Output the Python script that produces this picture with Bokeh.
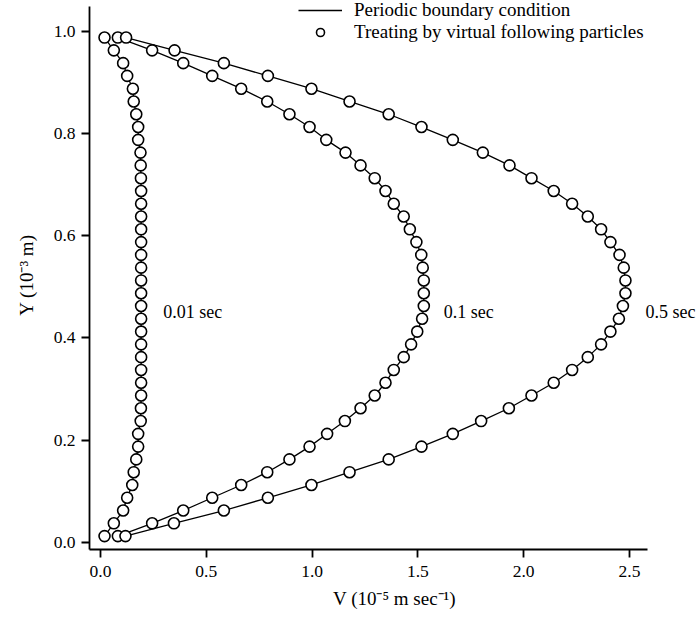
from bokeh.plotting import figure
from bokeh.models import Range1d, FixedTicker, Legend, LegendItem, Label, NumeralTickFormatter
from bokeh.embed import file_html
from bokeh.resources import INLINE

# Y position (10^-3 m) of each sampled particle layer
Y = [0.0125, 0.0375, 0.0625, 0.0875, 0.1125, 0.1375, 0.1625, 0.1875, 0.2125, 0.2375,
     0.2625, 0.2875, 0.3125, 0.3375, 0.3625, 0.3875, 0.4125, 0.4375, 0.4625, 0.4875,
     0.5125, 0.5375, 0.5625, 0.5875, 0.6125, 0.6375, 0.6625, 0.6875, 0.7125, 0.7375,
     0.7625, 0.7875, 0.8125, 0.8375, 0.8625, 0.8875, 0.9125, 0.9375, 0.9625, 0.9875]

# Velocity V (10^-5 m/s) at t = 0.01 s
V_001 = [0.019, 0.063, 0.107, 0.126, 0.150, 0.157, 0.169, 0.178, 0.178, 0.190,
         0.191, 0.192, 0.192, 0.192, 0.192, 0.192, 0.192, 0.192, 0.192, 0.192,
         0.192, 0.192, 0.192, 0.192, 0.192, 0.192, 0.192, 0.192, 0.191, 0.190,
         0.189, 0.178, 0.178, 0.169, 0.157, 0.153, 0.126, 0.107, 0.063, 0.019]

# t = 0.1 s
V_01 = [0.082, 0.244, 0.391, 0.528, 0.665, 0.788, 0.893, 0.988, 1.071, 1.155,
        1.229, 1.296, 1.347, 1.386, 1.433, 1.468, 1.497, 1.520, 1.528, 1.528,
        1.528, 1.523, 1.516, 1.493, 1.462, 1.433, 1.386, 1.347, 1.296, 1.229,
        1.158, 1.067, 0.988, 0.893, 0.788, 0.665, 0.528, 0.391, 0.244, 0.082]

# t = 0.5 s
V_05 = [0.118, 0.347, 0.583, 0.791, 0.997, 1.177, 1.362, 1.517, 1.665, 1.799,
        1.930, 2.037, 2.142, 2.229, 2.303, 2.366, 2.410, 2.450, 2.469, 2.481,
        2.481, 2.473, 2.453, 2.410, 2.366, 2.303, 2.229, 2.142, 2.037, 1.933,
        1.807, 1.665, 1.517, 1.362, 1.177, 0.997, 0.791, 0.583, 0.350, 0.121]

series = [V_001, V_01, V_05]
curve_labels = ["0.01 sec", "0.1 sec", "0.5 sec"]
label_x = [0.296, 1.622, 2.576]
label_y = 0.45

x_ticks = [0.0, 0.5, 1.0, 1.5, 2.0, 2.5]
y_ticks = [0.0, 0.2, 0.4, 0.6, 0.8, 1.0]

legend_labels = ["Periodic boundary condition", "Treating by virtual following particles"]

FONT = "Liberation Serif"

p = figure(width=699, height=621, output_backend="svg", toolbar_location=None,
           x_range=Range1d(-0.052, 2.831), y_range=Range1d(-0.0137, 1.060),
           min_border_left=89, min_border_right=0, min_border_top=0, min_border_bottom=72)
p.xgrid.visible = False
p.ygrid.visible = False
p.outline_line_color = None
p.background_fill_color = "white"

p.xaxis.axis_label = "V (10\u207b\u2075 m sec\u207b\u00b9)"
p.yaxis.axis_label = "Y (10\u207b\u00b3 m)"
p.xaxis.ticker = FixedTicker(ticks=x_ticks)
p.yaxis.ticker = FixedTicker(ticks=y_ticks)
p.xaxis.bounds = (-0.052, 2.585)
p.yaxis.bounds = (-0.0137, 1.048)
for ax in [p.xaxis[0], p.yaxis[0]]:
    ax.formatter = NumeralTickFormatter(format="0.0")
    ax.axis_line_width = 1.8
    ax.axis_line_color = "black"
    ax.major_tick_line_width = 1.8
    ax.major_tick_line_color = "black"
    ax.major_tick_out = 8
    ax.major_tick_in = 0
    ax.minor_tick_out = 0
    ax.minor_tick_in = 0
    ax.major_label_text_font = FONT
    ax.major_label_text_font_size = "17.5px"
    ax.major_label_text_color = "black"
    ax.axis_label_text_font = FONT
    ax.axis_label_text_font_style = "normal"
    ax.axis_label_text_font_size = "19px"
    ax.axis_label_text_color = "black"
p.yaxis.major_label_standoff = 6
p.yaxis.axis_label_standoff = 14
p.xaxis.major_label_standoff = 8
p.xaxis.axis_label_standoff = 8

line_renderers = []
for v in series:
    r = p.line(v, Y, line_color="black", line_width=1.3)
    line_renderers.append(r)
scatter_renderers = []
for v in series:
    r = p.scatter(v, Y, marker="circle", size=11, fill_color="white",
                  line_color="black", line_width=1.6)
    scatter_renderers.append(r)

for txt, lx in zip(curve_labels, label_x):
    p.add_layout(Label(x=lx, y=label_y, text=txt, text_font=FONT, text_font_size="18px",
                       text_baseline="middle", text_align="left", text_color="black"))

legend = Legend(items=[LegendItem(label=legend_labels[0], renderers=[line_renderers[0]]),
                       LegendItem(label=legend_labels[1], renderers=[scatter_renderers[0]])],
                location=(209, 506), padding=0, margin=0, spacing=0,
                glyph_width=44, glyph_height=20, label_height=20, label_standoff=12,
                label_text_font=FONT, label_text_font_size="19px", label_text_color="black",
                label_text_baseline="middle",
                border_line_alpha=0, background_fill_alpha=0)
p.add_layout(legend)

open("out.html", "w").write(file_html(p, INLINE))
